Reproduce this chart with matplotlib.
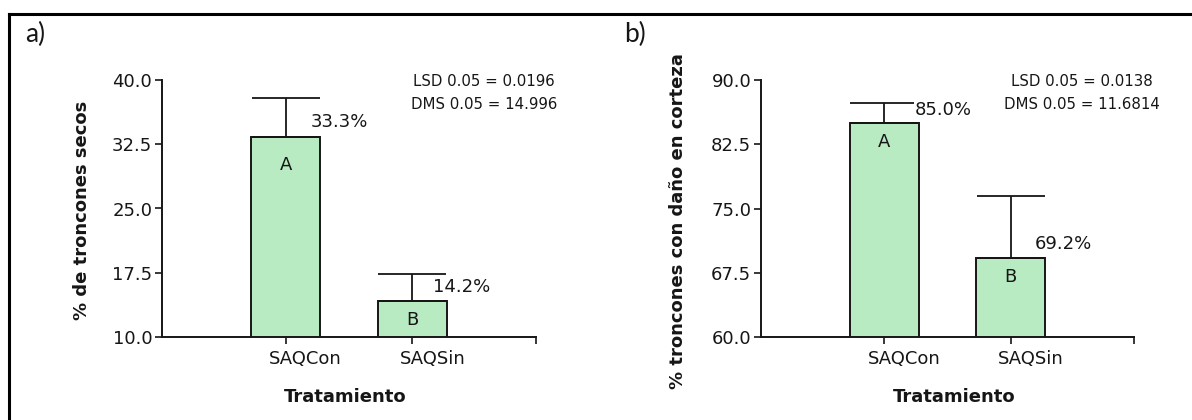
import matplotlib
matplotlib.use('Agg')
import matplotlib.pyplot as plt
from matplotlib.lines import Line2D
from matplotlib.transforms import ScaledTranslation

plt.rcParams['font.family'] = ['DejaVu Sans']

treatments = ['SAQCon', 'SAQSin']
x_pos = [1, 2]

# a) troncones secos
secos_mean = [33.3, 14.2]
secos_err = [4.6, 3.1]
secos_groups = ['A', 'B']
secos_ticks = [10.0, 17.5, 25.0, 32.5, 40.0]
secos_stats = ['LSD 0.05 = 0.0196', 'DMS 0.05 = 14.996']

# b) troncones con daño en corteza
corteza_mean = [85.0, 69.2]
corteza_err = [2.3, 7.3]
corteza_groups = ['A', 'B']
corteza_ticks = [60.0, 67.5, 75.0, 82.5, 90.0]
corteza_stats = ['LSD 0.05 = 0.0138', 'DMS 0.05 = 11.6814']

BAR_COLOR = '#b8ebc2'
INK = '#161616'
BAR_W = 0.55
XLIM = (0.025, 2.975)


def draw_panel(ax, means, errs, groups, ticks, stats, ylabel,
               value_offsets, letter_offsets, ylabel_xy, xlabel_xy):
    ax.bar(x_pos, means, width=BAR_W, color=BAR_COLOR, edgecolor=INK,
           linewidth=1.4, zorder=2)
    ax.errorbar(x_pos, means, yerr=[[0] * len(errs), errs], fmt='none',
                ecolor=INK, elinewidth=1.3, capsize=24.5, capthick=1.3,
                zorder=3)

    for x, m, g, (dx, dy), ly in zip(x_pos, means, groups, value_offsets,
                                     letter_offsets):
        ax.annotate(f'{m:.1f}%', (x, m), xytext=(dx, dy),
                    textcoords='offset pixels', ha='left', va='center',
                    fontsize=13, color=INK, zorder=5,
                    bbox=dict(fc='white', ec='none', pad=0.5))
        ax.annotate(g, (x, m), xytext=(0, -ly), textcoords='offset pixels',
                    ha='center', va='center', fontsize=13, color=INK,
                    zorder=5)

    ax.text(0.861, 0.995, stats[0], transform=ax.transAxes, ha='center',
            va='center', fontsize=10.8, color=INK)
    ax.text(0.861, 0.906, stats[1], transform=ax.transAxes, ha='center',
            va='center', fontsize=10.8, color=INK)

    ax.set_xlim(*XLIM)
    ax.set_ylim(ticks[0], ticks[-1])
    ax.set_yticks(ticks)
    ax.set_yticklabels([f'{t:.1f}' for t in ticks])
    ax.set_xticks(x_pos)
    ax.set_xticklabels(treatments)
    ax.set_xticks([XLIM[1]], minor=True)

    for side in ('top', 'right'):
        ax.spines[side].set_visible(False)
    for side in ('left', 'bottom'):
        ax.spines[side].set_linewidth(1.4)
        ax.spines[side].set_color(INK)

    ax.tick_params(axis='both', which='both', direction='out', length=5,
                   width=1.2, color=INK, labelsize=13, labelcolor=INK)
    ax.tick_params(axis='y', pad=2)
    ax.tick_params(axis='x', pad=4)

    shift = ScaledTranslation(0.20, 0, ax.figure.dpi_scale_trans)
    for lab in ax.get_xticklabels():
        lab.set_transform(lab.get_transform() + shift)

    ax.set_ylabel(ylabel, fontsize=13, fontweight='bold', color=INK)
    ax.yaxis.label.set_va('center')
    ax.yaxis.set_label_coords(*ylabel_xy)
    ax.set_xlabel('Tratamiento', fontsize=13, fontweight='bold', color=INK)
    ax.xaxis.label.set_va('center')
    ax.xaxis.set_label_coords(*xlabel_xy)


fig = plt.figure(figsize=(11.92, 4.2), dpi=100)
ax_a = fig.add_axes([162 / 1192, 83 / 420, 374 / 1192, 257 / 420])
ax_b = fig.add_axes([761 / 1192, 83 / 420, 373 / 1192, 257 / 420])

draw_panel(ax_a, secos_mean, secos_err, secos_groups, secos_ticks,
           secos_stats, '% de troncones secos',
           value_offsets=[(25, 15), (21, 14)], letter_offsets=[28, 19],
           ylabel_xy=(-0.214, 0.494), xlabel_xy=(0.489, -0.233))
draw_panel(ax_b, corteza_mean, corteza_err, corteza_groups, corteza_ticks,
           corteza_stats, '% troncones con daño en corteza',
           value_offsets=[(30, 13), (24, 14)], letter_offsets=[19, 19],
           ylabel_xy=(-0.2225, 0.451), xlabel_xy=(0.517, -0.233))

# panel tags and the frame around the figure
fig.text(25 / 1192, 1 - 34 / 420, 'a)', fontsize=19, family=['Lato', 'DejaVu Sans'],
         ha='left', va='center', color=INK)
fig.text(624 / 1192, 1 - 34 / 420, 'b)', fontsize=19, family=['Lato', 'DejaVu Sans'],
         ha='left', va='center', color=INK)
fig.add_artist(Line2D([9 / 1192, 1.0], [1 - 14 / 420, 1 - 14 / 420],
                      transform=fig.transFigure, color='black', linewidth=2.2))
fig.add_artist(Line2D([9 / 1192, 9 / 1192], [0.0, 1 - 14 / 420],
                      transform=fig.transFigure, color='black', linewidth=2.2))

fig.savefig('out.png', dpi=100)
plt.close(fig)
